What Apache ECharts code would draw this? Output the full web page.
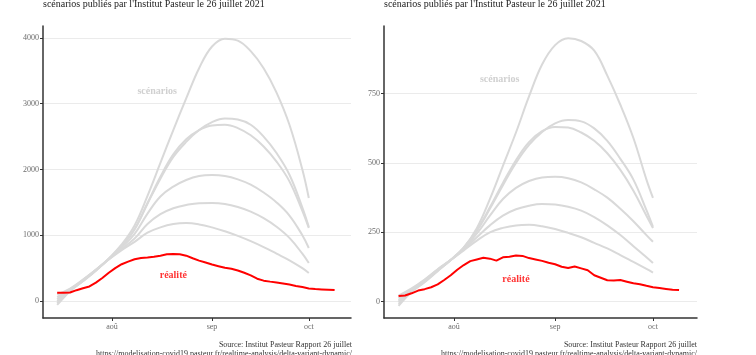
<!DOCTYPE html>
<html><head><meta charset="utf-8">
<script src="https://cdn.jsdelivr.net/npm/echarts@6/dist/echarts.min.js"></script>
<style>html,body{margin:0;padding:0;background:#fff}#c{width:756px;height:355px}</style>
</head><body><div id="c"></div>
<script>
// ---------- DATA ----------
const scenarioDates = ['2021-07-15','2021-07-19','2021-07-23','2021-07-27','2021-07-31','2021-08-04','2021-08-08','2021-08-12','2021-08-16','2021-08-20','2021-08-24','2021-08-28',
 '2021-09-01','2021-09-05','2021-09-09','2021-09-13','2021-09-17','2021-09-21','2021-09-25','2021-09-29','2021-10-01'];
// left panel scenarios
const leftScen1 = [-60, 150, 300, 460, 645, 860, 1150, 1600, 2100, 2600, 3080, 3540, 3870, 3990, 3960, 3800, 3540, 3170, 2680, 2000, 1566];
const leftScen2 = [-30, 160, 305, 465, 642, 835, 1090, 1480, 1860, 2190, 2420, 2600, 2720, 2775, 2760, 2680, 2500, 2250, 1920, 1420, 1125];
const leftScen3 = [0, 165, 310, 470, 640, 835, 1090, 1490, 1890, 2230, 2460, 2600, 2670, 2680, 2630, 2520, 2350, 2120, 1820, 1370, 1110];
const leftScen4 = [30, 170, 315, 470, 638, 815, 1020, 1330, 1590, 1740, 1840, 1900, 1915, 1900, 1850, 1770, 1650, 1500, 1300, 1000, 806];
const leftScen5 = [60, 180, 320, 475, 636, 795, 950, 1170, 1320, 1410, 1460, 1488, 1490, 1475, 1430, 1360, 1260, 1130, 960, 720, 578];
const leftScen6 = [100, 190, 325, 475, 632, 775, 900, 1040, 1120, 1170, 1185, 1165, 1120, 1060, 990, 910, 820, 720, 620, 500, 426];
// right panel scenarios
const rightScen1 = [-15, 35, 70, 110, 150, 195, 265, 370, 490, 610, 740, 855, 925, 950, 940, 905, 815, 710, 590, 440, 374];
const rightScen2 = [-8, 38, 72, 112, 150, 195, 255, 335, 420, 500, 565, 612, 643, 655, 650, 625, 580, 515, 440, 330, 270];
const rightScen3 = [0, 40, 74, 113, 150, 195, 258, 340, 428, 510, 575, 615, 630, 628, 610, 580, 535, 475, 400, 310, 265];
const rightScen4 = [5, 42, 76, 115, 150, 192, 245, 310, 370, 410, 435, 448, 450, 445, 430, 405, 375, 335, 290, 240, 216];
const rightScen5 = [12, 44, 78, 116, 150, 188, 232, 275, 310, 333, 346, 352, 350, 342, 328, 305, 275, 240, 200, 160, 139];
const rightScen6 = [22, 48, 80, 117, 150, 185, 220, 250, 266, 275, 277, 272, 262, 248, 232, 212, 192, 168, 143, 118, 105];
// observed ("réalité")
const realDates = ['2021-07-15','2021-07-17','2021-07-19','2021-07-21','2021-07-23','2021-07-25','2021-07-27','2021-07-29','2021-07-31',
 '2021-08-02','2021-08-04','2021-08-06','2021-08-08','2021-08-10','2021-08-12','2021-08-14','2021-08-16','2021-08-18','2021-08-20','2021-08-22','2021-08-24','2021-08-26','2021-08-28','2021-08-30',
 '2021-09-01','2021-09-03','2021-09-05','2021-09-07','2021-09-09','2021-09-11','2021-09-13','2021-09-15','2021-09-17','2021-09-19','2021-09-21','2021-09-23','2021-09-25','2021-09-27','2021-09-29',
 '2021-10-01','2021-10-03','2021-10-05','2021-10-07','2021-10-09'];
const leftReal = [126,126,130,165,195,222,280,350,430,
 500,560,600,635,655,662,672,690,710,715,712,690,650,615,585,
 555,530,505,490,465,430,390,340,310,295,282,268,250,230,212,
 192,182,177,172,166];
const rightReal = [20,22,30,40,45,52,62,78,95,
 115,132,146,152,158,155,148,160,162,166,165,157,152,147,140,
 135,126,121,127,120,113,95,86,77,76,78,72,66,63,57,
 52,49,46,43,42];
// axis ticks
const leftYTicks = [0, 1000, 2000, 3000, 4000];
const rightYTicks = [0, 250, 500, 750];
const xTickDates = ['2021-08-01','2021-09-01','2021-10-01'];
const xTickLabels = ['aoû','sep','oct'];
// texts
const titleText = "scénarios publiés par l'Institut Pasteur le 26 juillet 2021";
const sourceText = 'Source: Institut Pasteur Rapport 26 juillet';
const urlText = 'https://modelisation-covid19.pasteur.fr/realtime-analysis/delta-variant-dynamic/';
const scenLabel = 'scénarios', realLabel = 'réalité';
const leftAnnot = {scen: ['2021-08-15', 3190], real: ['2021-08-20', 395]};
const rightAnnot = {scen: ['2021-08-15', 800], real: ['2021-08-20', 81]};

// ---------- BUILD ----------
// dates -> day number of the year (value axis)
function dn(s){const p=s.split('-');return Math.round((Date.UTC(+p[0],p[1]-1,+p[2]) - Date.UTC(+p[0],0,1))/864e5);}
const xTicks = xTickDates.map(dn);
function pairs(dates, vals){return dates.map((d,i)=>[dn(d), vals[i]]);}
const serif = '"Liberation Serif", "DejaVu Serif", serif';
const GREY = '#d9d9d9';

function xAxis(idx, min, max){
  return {type:'value', gridIndex:idx, min:min, max:max,
    axisLine:{show:true, onZero:false, lineStyle:{color:'#333', width:1.5}},
    axisTick:{show:true, customValues:xTicks, length:3, lineStyle:{color:'#333', width:1}},
    axisLabel:{show:true, customValues:xTicks, color:'#6b6b6b', fontFamily:serif, fontSize:8, margin:5,
      formatter:(v)=>{const i=xTicks.findIndex(t=>Math.abs(t-v)<0.5);return i>=0?xTickLabels[i]:'';}},
    splitLine:{show:false}};
}
function yAxis(idx, min, max, ticks){
  return {type:'value', gridIndex:idx, min:min, max:max,
    axisLine:{show:true, onZero:false, lineStyle:{color:'#333', width:1.5}},
    axisTick:{show:true, customValues:ticks, length:3, lineStyle:{color:'#333', width:1}},
    axisLabel:{show:true, customValues:ticks, color:'#6b6b6b', fontFamily:serif, fontSize:8, margin:4, formatter:(v)=>String(v)},
    splitLine:{show:true, lineStyle:{color:'#ebebeb', width:1}}};
}
function greyLine(idx, vals){
  return {type:'line', xAxisIndex:idx, yAxisIndex:idx, data:pairs(scenarioDates, vals), smooth:0.4,
    showSymbol:false, symbol:'none', lineStyle:{color:GREY, width:2}, z:2, silent:true};
}
function annot(idx, a){
  return {type:'scatter', xAxisIndex:idx, yAxisIndex:idx, symbolSize:1, itemStyle:{color:'rgba(0,0,0,0)'}, z:5,
    data:[
      {value:[dn(a.scen[0]), a.scen[1]], label:{show:true, position:'inside', formatter:scenLabel, color:'#c4c4c4', fontWeight:'bold', fontFamily:serif, fontSize:10}},
      {value:[dn(a.real[0]), a.real[1]], label:{show:true, position:'inside', formatter:realLabel, color:'#ff0000', fontWeight:'bold', fontFamily:serif, fontSize:10}}
    ]};
}

const lMin = dn('2021-07-10') + 0.61, lMax = dn('2021-10-14') + 0.08;
const rMin = dn('2021-07-10') + 0.54, rMax = dn('2021-10-14') + 0.5;

const series = [];
[leftScen1,leftScen2,leftScen3,leftScen4,leftScen5,leftScen6].forEach(v=>series.push(greyLine(0,v)));
series.push({type:'line', xAxisIndex:0, yAxisIndex:0, data:pairs(realDates,leftReal), showSymbol:false, symbol:'none', lineStyle:{color:'#ff0000', width:2}, z:3});
series.push(annot(0, leftAnnot));
[rightScen1,rightScen2,rightScen3,rightScen4,rightScen5,rightScen6].forEach(v=>series.push(greyLine(1,v)));
series.push({type:'line', xAxisIndex:1, yAxisIndex:1, data:pairs(realDates,rightReal), showSymbol:false, symbol:'none', lineStyle:{color:'#ff0000', width:2}, z:3});
series.push(annot(1, rightAnnot));

const chart = echarts.init(document.getElementById('c'), null, {renderer:'canvas'});
chart.setOption({
  animation:false,
  backgroundColor:'#fff',
  grid:[{left:43, top:26, width:308, bottom:37},{left:384, top:26, width:313, bottom:37}],
  xAxis:[xAxis(0,lMin,lMax), xAxis(1,rMin,rMax)],
  yAxis:[yAxis(0,-258,4182,leftYTicks), yAxis(1,-59,994,rightYTicks)],
  graphic:[
    {type:'text', left:43, top:-1, style:{text:titleText, font:'10px '+serif, fill:'#222'}},
    {type:'text', left:384, top:-1, style:{text:titleText, font:'10px '+serif, fill:'#222'}},
    {type:'text', right:756-352, top:341, style:{text:sourceText, font:'8px '+serif, fill:'#333', align:'right'}},
    {type:'text', right:756-352, top:350, style:{text:urlText, font:'8px '+serif, fill:'#333', align:'right'}},
    {type:'text', right:756-697, top:341, style:{text:sourceText, font:'8px '+serif, fill:'#333', align:'right'}},
    {type:'text', right:756-697, top:350, style:{text:urlText, font:'8px '+serif, fill:'#333', align:'right'}}
  ],
  series:series
});
</script>
</body></html>
